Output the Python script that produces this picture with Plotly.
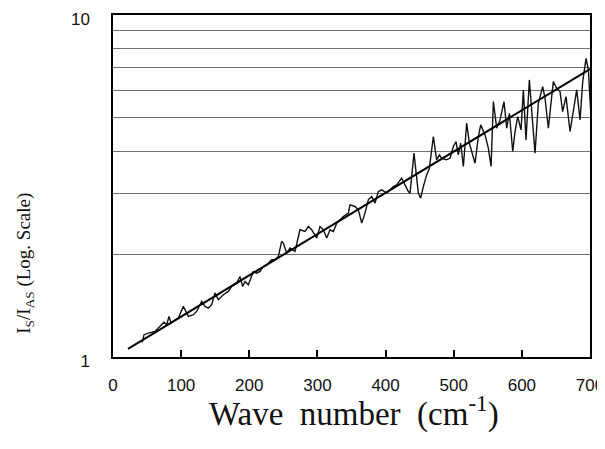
import plotly.graph_objects as go

wave_number = [43.0, 45.5, 51.9, 61.6, 66.5, 71.4, 74.8, 78.8, 82.2, 85.1, 91.0, 95.9, 103.2, 110.6, 117.9,
               122.8, 130.1, 135.0, 139.9, 144.8, 149.7, 154.6, 161.9, 169.3, 174.2, 181.5, 186.4, 190.3,
               193.7, 198.6, 206.0, 210.8, 215.7, 220.6, 225.5, 232.9, 237.8, 242.6, 247.5, 250.0, 254.9,
               259.8, 267.1, 274.4, 281.8, 286.7, 291.6, 298.9, 303.8, 308.7, 313.6, 318.5, 323.4, 328.3,
               333.1, 338.0, 345.4, 347.8, 355.2, 360.1, 365.0, 369.8, 374.7, 379.6, 384.5, 389.4, 394.3,
               401.6, 406.5, 411.4, 416.3, 423.6, 428.5, 433.4, 435.9, 441.7, 448.1, 451.5, 455.5, 460.3,
               464.3, 470.1, 475.0, 478.9, 482.4, 488.7, 494.6, 499.5, 503.4, 506.8, 510.2, 514.2, 519.0,
               523.0, 526.4, 531.3, 536.2, 539.6, 546.0, 550.8, 554.8, 558.2, 563.1, 568.0, 573.8, 577.8,
               581.7, 586.6, 590.0, 593.9, 598.8, 602.2, 606.1, 611.0, 614.4, 619.3, 624.2, 630.6, 634.0,
               638.9, 643.8, 646.2, 651.1, 656.0, 659.9, 664.8, 670.7, 675.6, 680.5, 685.4, 689.3, 694.2,
               697.6, 702.5, 704.0]
ratio = [1.104, 1.162, 1.175, 1.188, 1.215, 1.243, 1.263, 1.243, 1.315, 1.257, 1.285, 1.300, 1.406, 1.315, 1.329,
         1.359, 1.454, 1.406, 1.390, 1.422, 1.538, 1.471, 1.521, 1.555, 1.608, 1.645, 1.720, 1.608,
         1.663, 1.627, 1.779, 1.759, 1.779, 1.840, 1.861, 1.924, 1.924, 1.968, 2.177, 2.153, 2.013,
         2.082, 2.036, 2.355, 2.328, 2.408, 2.355, 2.227, 2.408, 2.355, 2.227, 2.355, 2.328, 2.463,
         2.519, 2.576, 2.634, 2.786, 2.755, 2.694, 2.463, 2.634, 2.881, 2.946, 2.818, 3.047, 3.082,
         3.014, 3.082, 3.152, 3.187, 3.333, 3.187, 3.047, 3.014, 3.944, 3.014, 2.913, 3.152, 3.408,
         3.565, 4.412, 3.771, 3.900, 3.814, 3.771, 3.814, 4.125, 4.266, 3.900, 4.218, 3.606, 4.826,
         4.218, 3.989, 3.687, 4.412, 4.772, 4.462, 4.079, 3.606, 5.582, 4.666, 4.935, 5.582, 4.666,
         5.161, 3.989, 4.563, 5.047, 4.614, 6.038, 4.314, 6.459, 5.278, 3.944, 5.521, 6.175, 5.709,
         4.666, 5.773, 6.388, 6.107, 5.971, 5.219, 5.773, 4.563, 5.278, 6.038, 4.935, 6.388, 7.470,
         6.909, 4.666, 5.161]

fit_x = [22, 700]
fit_y = [1.057, 6.95]

x_ticks = [0, 100, 200, 300, 400, 500, 600, 700]
y_ticks = [1, 2, 3, 4, 5, 6, 7, 8, 9, 10]
y_ticktext = ["1", "", "", "", "", "", "", "", "", "10"]

fig = go.Figure()
fig.add_trace(go.Scatter(x=wave_number, y=ratio, mode="lines",
                         line=dict(color="#111111", width=1.4), showlegend=False))
fig.add_trace(go.Scatter(x=fit_x, y=fit_y, mode="lines",
                         line=dict(color="#000000", width=2), showlegend=False))

fig.update_layout(
    width=605, height=441,
    margin=dict(l=105, r=23, t=7, b=92, autoexpand=False),
    paper_bgcolor="white", plot_bgcolor="white",
    font=dict(family="Liberation Sans", color="#111111"),
    xaxis=dict(range=[0, 700], tickmode="array", tickvals=x_ticks,
               ticks="inside", ticklen=7, tickwidth=1.5, tickcolor="black",
               showline=True, mirror=True, linecolor="black", linewidth=1.5,
               showgrid=False, zeroline=False, automargin=False,
               tickfont=dict(family="Liberation Sans", size=17),
               ticklabelstandoff=12, ticklabeloverflow="allow"),
    yaxis=dict(type="log", range=[0, 1], tickmode="array", tickvals=y_ticks, ticktext=y_ticktext,
               ticks="", showline=True, mirror=True, linecolor="black", linewidth=1.5,
               showgrid=True, gridcolor="#707070", gridwidth=1, zeroline=False, automargin=False,
               tickfont=dict(family="Liberation Sans", size=17),
               ticklabelstandoff=18, ticklabelshift=4, ticklabeloverflow="allow"),
    annotations=[
        dict(text="I<sub>S</sub>/I<sub>AS</sub> (Log. Scale)", textangle=-90,
             xref="paper", yref="paper", x=-0.185, y=0.275,
             xanchor="center", yanchor="middle", showarrow=False,
             font=dict(family="Liberation Serif", size=19, color="#111111")),
        dict(text="Wave  number  (cm<sup>-1</sup>)",
             xref="paper", yref="paper", x=0.505, y=-0.16,
             xanchor="center", yanchor="middle", showarrow=False,
             font=dict(family="Liberation Serif", size=33, color="#111111")),
    ],
)

fig.write_html("out.html")
